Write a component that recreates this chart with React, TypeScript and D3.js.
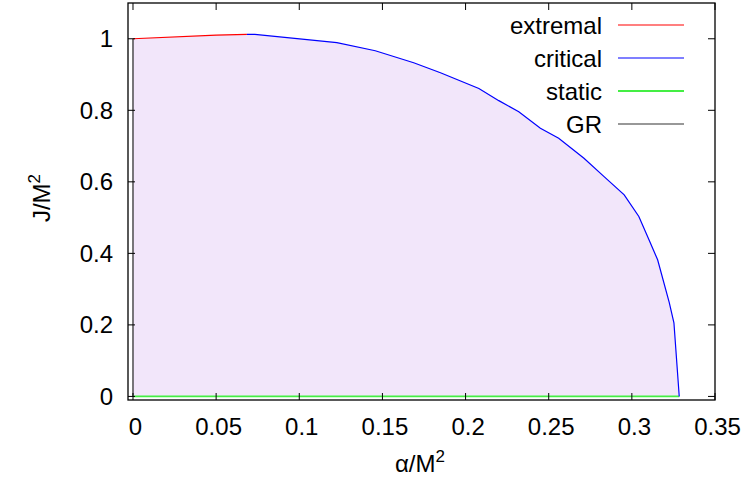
import React, { useRef, useEffect } from "react";
import * as d3 from "d3";

// data (alpha/M^2, J/M^2)
const extremalAlpha = [0, 0.05, 0.0685];
const extremalJ = [1.0, 1.01, 1.0123];

const criticalAlpha = [
  0.0685, 0.0733, 0.1226, 0.1457, 0.1688, 0.1849, 0.208, 0.22, 0.232, 0.245,
  0.256, 0.2712, 0.2833, 0.2954, 0.3042, 0.3103, 0.3155, 0.3225, 0.3253, 0.3285,
];
const criticalJ = [
  1.0123, 1.012, 0.989, 0.9665, 0.933, 0.905, 0.861, 0.827, 0.796, 0.75,
  0.722, 0.666, 0.6145, 0.5636, 0.503, 0.438, 0.382, 0.262, 0.206, 0,
];

const staticAlpha = [0, 0.3285];
const staticJ = [0, 0];

const grAlpha = [0, 0];
const grJ = [0, 1];

const xTicks = [0, 0.05, 0.1, 0.15, 0.2, 0.25, 0.3, 0.35];
const yTicks = [0, 0.2, 0.4, 0.6, 0.8, 1];

const legendNames = ["extremal", "critical", "static", "GR"];
const legendColors = ["#ff0000", "#0000ff", "#44ee44", "#333333"];

const FONT = "'Liberation Sans', Arial, sans-serif";

type Pt = [number, number];
const zip = (a: number[], b: number[]): Pt[] => a.map((v, i) => [v, b[i]]);

export default function App() {
  const ref = useRef<SVGSVGElement | null>(null);

  useEffect(() => {
    if (!ref.current) return;
    const svg = d3.select(ref.current);
    svg.selectAll("*").remove();

    const left = 128, right = 715, top = 3, bottom = 400;
    const x = d3.scaleLinear().domain([-0.003, 0.35]).range([left, right]);
    const y = d3.scaleLinear().domain([-0.01, 1.1]).range([bottom, top]);

    const line = d3
      .line<Pt>()
      .x((d) => x(d[0]))
      .y((d) => y(d[1]));

    // shaded region under the curve
    const boundary: Pt[] = [
      [0, 0],
      ...zip(extremalAlpha, extremalJ),
      ...zip(criticalAlpha, criticalJ).slice(1),
    ];
    svg
      .append("path")
      .attr("d", line(boundary) + "Z")
      .attr("fill", "#f2e6fa")
      .attr("stroke", "none");

    // series
    const series: Pt[][] = [
      zip(extremalAlpha, extremalJ),
      zip(criticalAlpha, criticalJ),
      zip(staticAlpha, staticJ),
      zip(grAlpha, grJ),
    ];
    const widths = [1.2, 1.2, 1.8, 1.3];
    // draw GR and static underneath the curves
    [3, 2, 0, 1].forEach((i) => {
      svg
        .append("path")
        .attr("d", line(series[i]))
        .attr("fill", "none")
        .attr("stroke", legendColors[i])
        .attr("stroke-width", widths[i]);
    });

    // ticks (inward, mirrored)
    const tl = 7;
    const tg = svg.append("g").attr("stroke", "#000").attr("stroke-width", 1);
    xTicks.forEach((t) => {
      tg.append("line").attr("x1", x(t)).attr("x2", x(t)).attr("y1", bottom).attr("y2", bottom - tl);
      tg.append("line").attr("x1", x(t)).attr("x2", x(t)).attr("y1", top).attr("y2", top + tl);
    });
    yTicks.forEach((t) => {
      tg.append("line").attr("x1", left).attr("x2", left + tl).attr("y1", y(t)).attr("y2", y(t));
      tg.append("line").attr("x1", right).attr("x2", right - tl).attr("y1", y(t)).attr("y2", y(t));
    });

    // border
    svg
      .append("rect")
      .attr("x", left)
      .attr("y", top)
      .attr("width", right - left)
      .attr("height", bottom - top)
      .attr("fill", "none")
      .attr("stroke", "#000")
      .attr("stroke-width", 1.3);

    // tick labels
    const fmt = d3.format("");
    svg
      .selectAll("text.xt")
      .data(xTicks)
      .enter()
      .append("text")
      .attr("class", "xt")
      .attr("x", (d) => x(d) + 2.5)
      .attr("y", 435)
      .attr("text-anchor", "middle")
      .attr("font-family", FONT)
      .attr("font-size", 24)
      .text((d) => fmt(d));

    svg
      .selectAll("text.yt")
      .data(yTicks)
      .enter()
      .append("text")
      .attr("class", "yt")
      .attr("x", 113)
      .attr("y", (d) => y(d) + 8.6)
      .attr("text-anchor", "end")
      .attr("font-family", FONT)
      .attr("font-size", 24)
      .text((d) => fmt(d));

    // axis titles
    const xl = svg
      .append("text")
      .attr("x", 420)
      .attr("y", 472)
      .attr("text-anchor", "middle")
      .attr("font-family", FONT)
      .attr("font-size", 24);
    xl.append("tspan").text("α/M");
    xl.append("tspan").attr("dy", -10).attr("font-size", 17).text("2");

    const yl = svg
      .append("text")
      .attr("transform", "translate(50,198) rotate(-90)")
      .attr("text-anchor", "middle")
      .attr("font-family", FONT)
      .attr("font-size", 24);
    yl.append("tspan").text("J/M");
    yl.append("tspan").attr("dy", -10).attr("font-size", 17).text("2");

    // legend
    const lg = svg.append("g");
    legendNames.forEach((name, i) => {
      const ly = 25 + i * 33;
      lg.append("text")
        .attr("x", 602)
        .attr("y", ly + 8.6)
        .attr("text-anchor", "end")
        .attr("font-family", FONT)
        .attr("font-size", 24)
        .text(name);
      lg.append("line")
        .attr("x1", 618)
        .attr("x2", 684)
        .attr("y1", ly)
        .attr("y2", ly)
        .attr("stroke", legendColors[i])
        .attr("stroke-width", i === 2 ? 1.8 : 1.2);
    });

    return () => {
      svg.selectAll("*").remove();
    };
  }, []);

  return (
    <svg
      ref={ref}
      width={744}
      height={479}
      style={{ position: "absolute", left: 0, top: 0, background: "#fff" }}
    />
  );
}
